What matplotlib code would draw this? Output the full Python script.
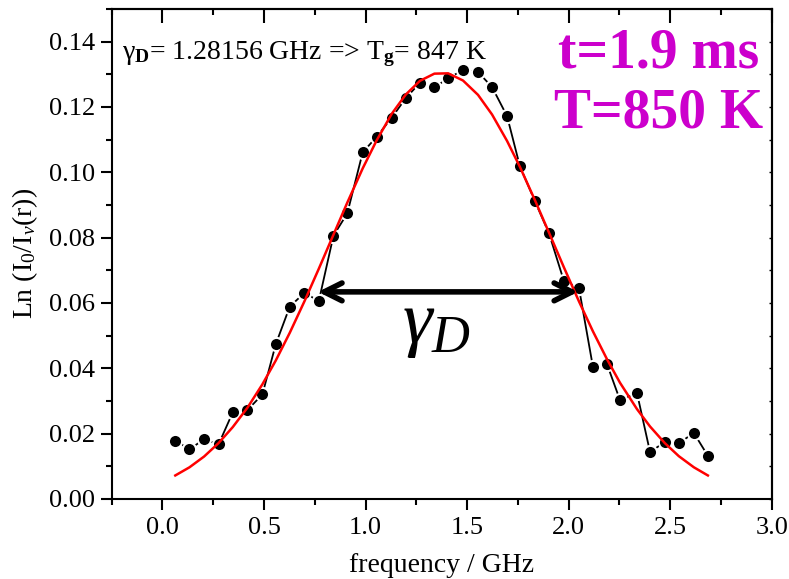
import numpy as np
import matplotlib
matplotlib.use("Agg")
import matplotlib.pyplot as plt
from matplotlib.ticker import MultipleLocator, FormatStrFormatter

plt.rcParams['font.family'] = ['Liberation Serif', 'DejaVu Serif']
plt.rcParams['mathtext.fontset'] = 'custom'
plt.rcParams['mathtext.rm'] = 'Liberation Serif'
plt.rcParams['mathtext.it'] = 'Liberation Serif:italic'
plt.rcParams['mathtext.bf'] = 'Liberation Serif:bold'

freq = [0.063, 0.133, 0.205, 0.276, 0.346, 0.418, 0.492, 0.558, 0.627, 0.699,
        0.770, 0.842, 0.910, 0.986, 1.055, 1.129, 1.198, 1.268, 1.339, 1.407,
        1.480, 1.554, 1.623, 1.697, 1.760, 1.834, 1.903, 1.977, 2.051, 2.120,
        2.189, 2.253, 2.337, 2.401, 2.474, 2.543, 2.617, 2.686]
ln_ratio = [0.0179, 0.0152, 0.0183, 0.0167, 0.0265, 0.0272, 0.0320, 0.0474, 0.0589, 0.0631,
            0.0606, 0.0806, 0.0874, 0.1061, 0.1109, 0.1167, 0.1227, 0.1274, 0.1260, 0.1288,
            0.1313, 0.1307, 0.1261, 0.1172, 0.1019, 0.0912, 0.0814, 0.0667, 0.0646, 0.0404,
            0.0413, 0.0303, 0.0324, 0.0144, 0.0174, 0.0171, 0.0202, 0.0132]

# gaussian fit curve (red), read at the same frequencies
fit = [0.0072, 0.0097, 0.0130, 0.0171, 0.0220, 0.0279, 0.0351, 0.0424, 0.0509, 0.0605,
       0.0705, 0.0809, 0.0907, 0.1012, 0.1098, 0.1179, 0.1238, 0.1280, 0.1302, 0.1303,
       0.1281, 0.1237, 0.1177, 0.1096, 0.1017, 0.0915, 0.0816, 0.0709, 0.0605, 0.0513,
       0.0428, 0.0356, 0.0275, 0.0222, 0.0171, 0.0131, 0.0097, 0.0072]

fwhm_left = 0.766
fwhm_right = 2.047
fwhm_level = 0.0634

fig = plt.figure(figsize=(7.89, 5.79), dpi=100)
ax = fig.add_axes([0.1416, 0.1382, 0.8364, 0.8463])

ax.plot(freq, ln_ratio, color='black', lw=1.3, marker='o', ms=9.5,
        mfc='black', mec='white', mew=1.5, zorder=3)
ax.plot(freq, fit, color='red', lw=1.8, zorder=4)

ax.annotate('', xy=(fwhm_left, fwhm_level), xytext=(fwhm_right, fwhm_level),
            arrowprops=dict(arrowstyle='<->', lw=4, color='black',
                            mutation_scale=32, shrinkA=0, shrinkB=0), zorder=5)
ax.text(1.35, 0.053, r'$\gamma_D$', fontsize=54, ha='center', va='center')

ax.text(-0.2, 0.1346, 'γ$_{\\mathbf{D}}$= 1.28156 GHz => T$_{\\mathbf{g}}$= 847 K',
        fontsize=20, ha='left', va='baseline')
ax.text(2.444, 0.1322, 't=1.9 ms', fontsize=40, fontweight='bold',
        color='#CC00CC', ha='center', va='baseline')
ax.text(2.444, 0.1136, 'T=850 K', fontsize=40, fontweight='bold',
        color='#CC00CC', ha='center', va='baseline')

ax.set_xlim(-0.25, 3.0)
ax.set_ylim(0, 0.15)
ax.xaxis.set_major_locator(MultipleLocator(0.5))
ax.xaxis.set_minor_locator(MultipleLocator(0.25))
ax.yaxis.set_major_locator(MultipleLocator(0.02))
ax.yaxis.set_minor_locator(MultipleLocator(0.01))
ax.xaxis.set_major_formatter(FormatStrFormatter('%.1f'))
ax.yaxis.set_major_formatter(FormatStrFormatter('%.2f'))

for s in ax.spines.values():
    s.set_linewidth(1.5)
ax.tick_params(which='both', width=1.5, labelsize=19, direction='out')
ax.tick_params(axis='x', which='major', length=8, pad=5)
ax.tick_params(axis='x', which='minor', length=4)
ax.tick_params(axis='y', which='major', length=8, pad=4)
ax.tick_params(axis='y', which='minor', length=4)

# top and right axes: inward ticks, no labels
top = ax.secondary_xaxis('top')
top.xaxis.set_major_locator(MultipleLocator(0.5))
top.xaxis.set_minor_locator(MultipleLocator(0.25))
top.tick_params(which='both', direction='in', width=1.5, labeltop=False)
top.tick_params(which='major', length=10)
top.tick_params(which='minor', length=4)
right = ax.secondary_yaxis('right')
right.yaxis.set_major_locator(MultipleLocator(0.02))
right.yaxis.set_minor_locator(MultipleLocator(0.01))
right.tick_params(which='both', direction='in', width=1.0, length=2.5, labelright=False)
for sec in (top, right):
    for s in sec.spines.values():
        s.set_linewidth(1.5)

ax.set_xlabel('frequency / GHz', fontsize=20, labelpad=10)
ax.set_ylabel(r'Ln (I$_0$/I$_\nu$(r))', fontsize=20, labelpad=6)

fig.savefig('out.png', dpi=100)
